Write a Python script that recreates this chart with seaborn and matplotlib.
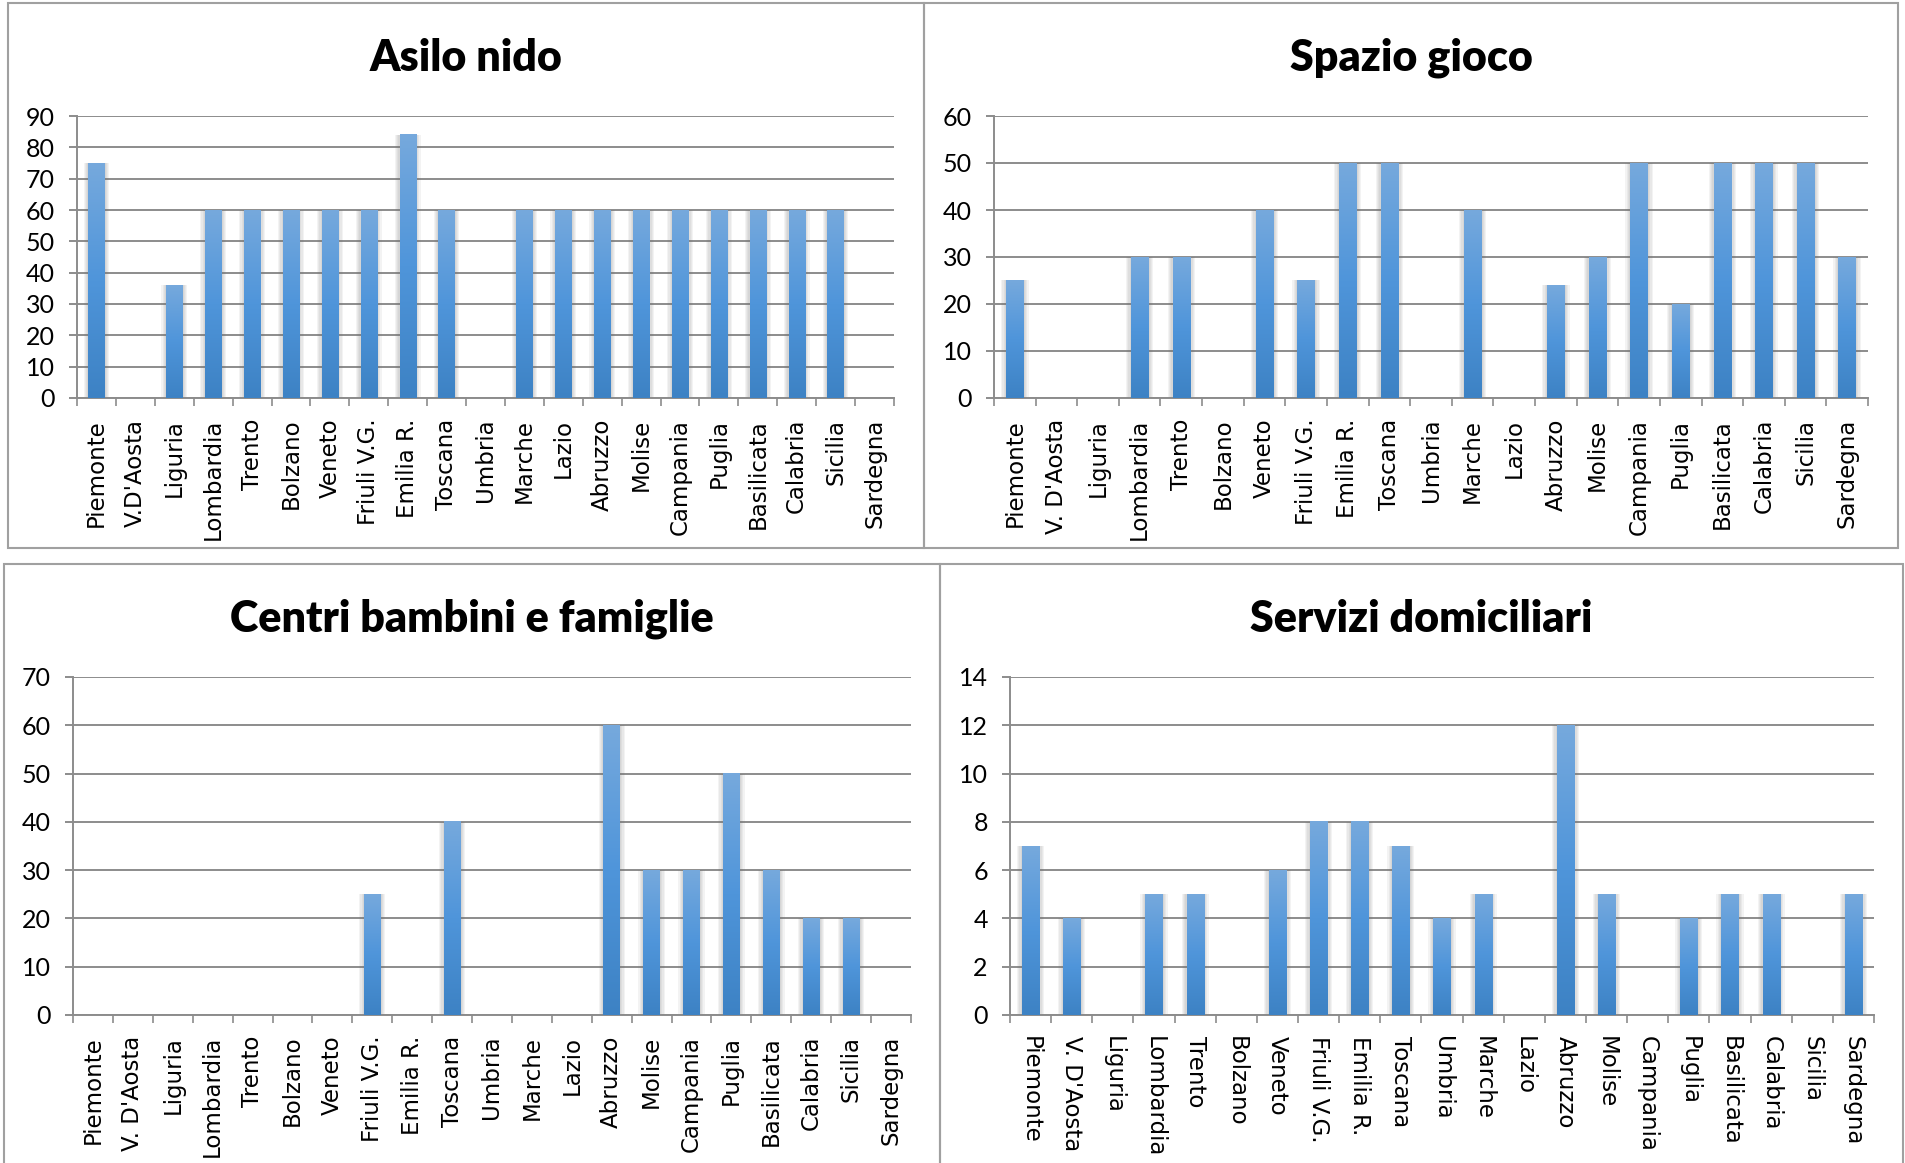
import numpy as np
import pandas as pd
import seaborn as sns
import matplotlib.pyplot as plt
from matplotlib.patches import Rectangle
from matplotlib.colors import LinearSegmentedColormap

# regions (x categories)
regions = ['Piemonte', "V. D'Aosta", 'Liguria', 'Lombardia', 'Trento', 'Bolzano',
           'Veneto', 'Friuli V.G.', 'Emilia R.', 'Toscana', 'Umbria', 'Marche',
           'Lazio', 'Abruzzo', 'Molise', 'Campania', 'Puglia', 'Basilicata',
           'Calabria', 'Sicilia', 'Sardegna']
regions_asilo = ['Piemonte', "V.D'Aosta"] + regions[2:]

asilo_nido = [75, 0, 36, 60, 60, 60, 60, 60, 84, 60, 0, 60, 60, 60, 60, 60, 60, 60, 60, 60, 0]
spazio_gioco = [25, 0, 0, 30, 30, 0, 40, 25, 50, 50, 0, 40, 0, 24, 30, 50, 20, 50, 50, 50, 30]
centri = [0, 0, 0, 0, 0, 0, 0, 25, 0, 40, 0, 0, 0, 60, 30, 30, 50, 30, 20, 20, 0]
servizi = [7, 4, 0, 5, 5, 0, 6, 8, 8, 7, 4, 5, 0, 12, 5, 0, 4, 5, 5, 0, 5]

W, H = 1905, 1163
fig = plt.figure(figsize=(W / 100, H / 100), dpi=100)

grid_col = '#8c8c8c'
bar_cmap = LinearSegmentedColormap.from_list('bar', ['#3d82c4', '#4f95da', '#76a9dd'])
grad = np.linspace(0, 1, 256).reshape(-1, 1)


def px_axes(x0, y0, x1, y1):
    return fig.add_axes([x0 / W, 1 - y1 / H, (x1 - x0) / W, (y1 - y0) / H])


def panel(box, axbox, title, labels, values, ymax, step, rot):
    # panel frame
    x0, y0, x1, y1 = box
    fig.patches.append(Rectangle((x0 / W, 1 - y1 / H), (x1 - x0) / W, (y1 - y0) / H,
                                 transform=fig.transFigure, fill=False,
                                 edgecolor='#a0a0a0', lw=1.5))
    fig.text((x0 + x1) / 2 / W, 1 - (y0 + 55) / H, title, ha='center', va='center',
             fontsize=31, fontweight='heavy', family='Lato')

    ax = px_axes(*axbox)
    df = pd.DataFrame({'region': regions, 'value': values})
    sns.barplot(data=df, x='region', y='value', ax=ax, color='#4f95da', width=0.42,
                order=regions)

    # gradient fill + soft shadow, like the spreadsheet style
    for p in ax.patches:
        h = p.get_height()
        if h <= 0:
            continue
        bx, bw = p.get_x(), p.get_width()
        for k in range(1, 5):
            ax.add_patch(Rectangle((bx - k * 0.03, 0), bw + 2 * k * 0.03, h,
                                   color='#707070', alpha=0.08, lw=0, zorder=2.5))
        ax.imshow(grad, extent=[bx, bx + bw, 0, h], origin='lower', cmap=bar_cmap,
                  aspect='auto', zorder=3)
        p.set_alpha(0)

    ax.set_xlim(-0.5, len(regions) - 0.5)
    ax.set_ylim(0, ymax)
    ax.set_xlabel('')
    ax.set_ylabel('')
    ax.set_yticks(range(0, ymax + 1, step))
    ax.set_xticks(range(len(regions)))
    ax.set_xticklabels(labels, rotation=rot, fontsize=16.5, family='DejaVu Sans')
    ax.set_xticks(np.arange(-0.5, len(regions)), minor=True)
    for t in ax.get_yticklabels():
        t.set_family('Lato')
        t.set_fontsize(18)

    ax.yaxis.grid(True, color=grid_col, lw=1.4)
    ax.set_axisbelow(True)
    ax.tick_params(axis='x', which='major', length=0, pad=15)
    ax.tick_params(axis='x', which='minor', length=5.5, width=1.2, color=grid_col)
    ax.tick_params(axis='y', length=6, width=1.4, color=grid_col, pad=10)
    for s in ['top', 'right']:
        ax.spines[s].set_visible(False)
    for s in ['left', 'bottom']:
        ax.spines[s].set_color(grid_col)
        ax.spines[s].set_linewidth(1.4)
    return ax


panel((8, 3, 924, 548), (77, 116, 894, 398), 'Asilo nido', regions_asilo, asilo_nido, 90, 10, 90)
panel((924, 3, 1898, 548), (994, 116, 1868, 398), 'Spazio gioco', regions, spazio_gioco, 60, 10, 90)
panel((4, 564, 940, 1175), (73, 677, 911, 1015), 'Centri bambini e famiglie', regions, centri, 70, 10, 90)
panel((940, 564, 1903, 1175), (1010, 677, 1874, 1015), 'Servizi domiciliari', regions, servizi, 14, 2, -90)

fig.savefig('out.png', dpi=100)
